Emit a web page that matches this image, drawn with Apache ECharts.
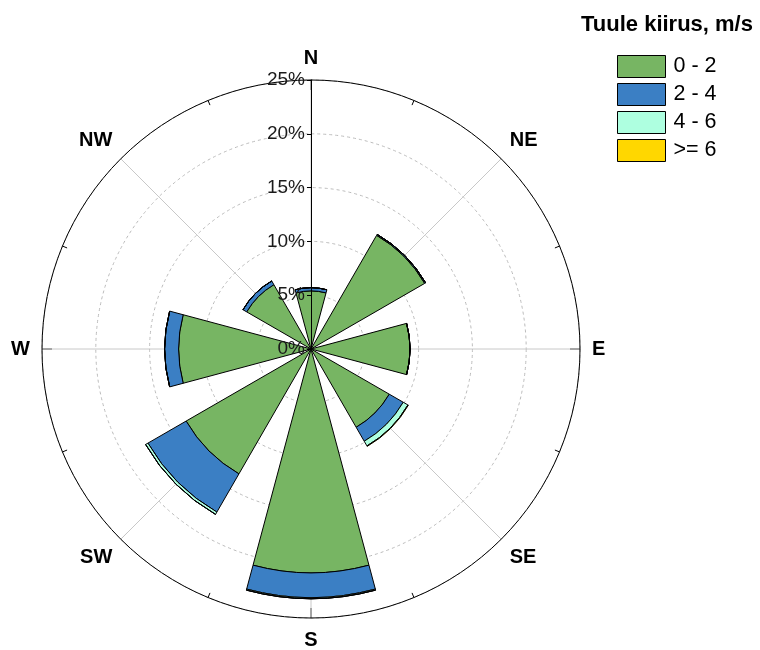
<!DOCTYPE html>
<html>
<head>
<meta charset="utf-8">
<script src="https://cdn.jsdelivr.net/npm/echarts@6/dist/echarts.min.js"></script>
<style>
  html, body { margin: 0; padding: 0; background: #fff; }
  #chart { width: 760px; height: 650px; }
</style>
</head>
<body>
<div id="chart"></div>
<script>
// Wind directions, clockwise from north
const directions = ['N', 'NE', 'E', 'SE', 'S', 'SW', 'W', 'NW'];

// Share of time (%) per direction for each wind speed class
const speed0to2 = [5.4, 12.2, 9.2, 8.4, 20.8, 13.4, 12.3, 6.9];
const speed2to4 = [0.3, 0.1, 0, 1.5, 2.3, 4.1, 1.3, 0.4];
const speed4to6 = [0, 0, 0, 0.5, 0.1, 0.25, 0, 0];
const speed6up  = [0, 0, 0, 0.05, 0, 0, 0, 0];

const speedClasses = ['0 - 2', '2 - 4', '4 - 6', '>= 6'];
const speedColors = ['#77b563', '#3b7fc4', '#aeffe0', '#ffd700'];
const radiusTicks = [0, 5, 10, 15, 20, 25];

const FONT = 'Liberation Sans, Arial, sans-serif';
const CENTER = [311, 349];
const RADIUS = 269;
const rMax = radiusTicks[radiusTicks.length - 1];
const rStep = radiusTicks[1] - radiusTicks[0];

const chart = echarts.init(document.getElementById('chart'), null, { renderer: 'canvas' });

const seriesData = [speed0to2, speed2to4, speed4to6, speed6up];

const compassName = { 0: 'N', 45: 'NE', 90: 'E', 135: 'SE', 180: 'S', 225: 'SW', 270: 'W', 315: 'NW' };

chart.setOption({
  animation: false,
  title: {
    text: 'Tuule kiirus, m/s',
    left: 581,
    top: 14,
    padding: 0,
    textStyle: { fontFamily: FONT, fontSize: 22, fontWeight: 'bold', color: '#000' }
  },
  legend: {
    orient: 'vertical',
    left: 617,
    top: 55,
    padding: 0,
    itemWidth: 48,
    itemHeight: 22,
    itemGap: 5,
    icon: 'rect',
    data: speedClasses,
    itemStyle: { borderColor: '#000', borderWidth: 1 },
    textStyle: { fontFamily: FONT, fontSize: 21.5, color: '#000', lineHeight: 22, padding: [0, 0, 0, 3] }
  },
  polar: [
    { center: CENTER, radius: RADIUS },   // bars
    { center: CENTER, radius: RADIUS },   // grid, compass ring
    { center: CENTER, radius: RADIUS }    // radial scale on top
  ],
  angleAxis: [
    {
      polarIndex: 0,
      type: 'category',
      data: directions,
      startAngle: 90 + 22.5,
      clockwise: true,
      boundaryGap: true,
      axisLine: { show: false },
      axisTick: { show: false },
      axisLabel: { show: false },
      splitLine: { show: false }
    },
    {
      polarIndex: 1,
      type: 'value',
      min: 0,
      max: 360,
      interval: 45,
      startAngle: 90,
      clockwise: true,
      z: 1,
      axisLine: { show: true, lineStyle: { color: '#000', width: 1 } },
      axisTick: { show: true, inside: true, length: 10, lineStyle: { color: '#000' } },
      minorTick: { show: true, splitNumber: 2, length: 5, lineStyle: { color: '#000' } },
      axisLabel: {
        margin: 12,
        fontFamily: FONT, fontSize: 20, fontWeight: 'bold', color: '#000',
        formatter: v => (v >= 360 ? '' : (compassName[v] || ''))
      },
      splitLine: { show: true, lineStyle: { color: '#c8c8c8', width: 1 } }
    },
    {
      polarIndex: 2,
      type: 'value',
      min: 0, max: 360,
      startAngle: 90,
      show: false
    }
  ],
  radiusAxis: [
    {
      polarIndex: 0,
      type: 'value',
      min: 0, max: rMax,
      show: false
    },
    {
      polarIndex: 1,
      type: 'value',
      min: 0, max: rMax, interval: rStep,
      z: 1,
      axisLine: { show: false },
      axisTick: { show: false },
      axisLabel: { show: false },
      splitLine: { show: true, lineStyle: { color: '#bbbbbb', type: [3, 3], width: 1 } }
    },
    {
      polarIndex: 2,
      type: 'value',
      min: 0, max: rMax, interval: rStep,
      z: 10,
      axisLine: { show: true, lineStyle: { color: '#000', width: 1 } },
      axisTick: { show: true, inside: true, length: 4, lineStyle: { color: '#000' } },
      axisLabel: {
        fontFamily: FONT, fontSize: 19, color: '#1a1a1a', margin: 6,
        formatter: v => v + '%'
      },
      splitLine: { show: false }
    }
  ],
  series: speedClasses.map((name, i) => ({
    name: name,
    type: 'bar',
    coordinateSystem: 'polar',
    polarIndex: 0,
    stack: 'wind',
    barWidth: '66.7%',
    z: 5,
    data: seriesData[i],
    itemStyle: { color: speedColors[i], borderColor: '#000', borderWidth: 1 }
  }))
});
</script>
</body>
</html>
